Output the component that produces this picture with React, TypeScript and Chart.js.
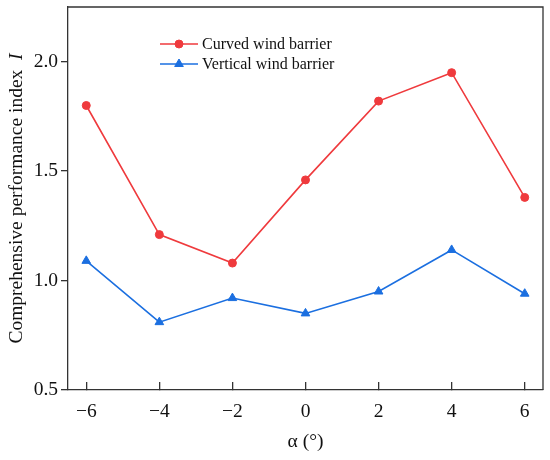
import React, { useEffect, useRef } from "react";
import { Chart, registerables } from "chart.js";

Chart.register(...registerables);

const alphaValues = [-6, -4, -2, 0, 2, 4, 6];
const curvedValues = [1.8, 1.21, 1.08, 1.46, 1.82, 1.95, 1.38];
const verticalValues = [1.09, 0.81, 0.92, 0.85, 0.95, 1.14, 0.94];
const xTickValues = [-6, -4, -2, 0, 2, 4, 6];
const yTickValues = [0.5, 1.0, 1.5, 2.0];
const seriesNames = ["Curved wind barrier", "Vertical wind barrier"];

const RED = "#ef3a3d";
const BLUE = "#1b6fe0";
const AXIS = "#333333";
const SERIF = "'Liberation Serif', 'Times New Roman', serif";

function drawMarker(ctx: CanvasRenderingContext2D, style: string, x: number, y: number, r: number, color: string) {
  ctx.save();
  ctx.fillStyle = color;
  ctx.strokeStyle = color;
  ctx.lineWidth = 1;
  ctx.beginPath();
  if (style === "circle") {
    ctx.arc(x, y, r, 0, Math.PI * 2);
  } else {
    let rad = 0;
    ctx.moveTo(x + Math.sin(rad) * r, y - Math.cos(rad) * r);
    rad += (2 * Math.PI) / 3;
    ctx.lineTo(x + Math.sin(rad) * r, y - Math.cos(rad) * r);
    rad += (2 * Math.PI) / 3;
    ctx.lineTo(x + Math.sin(rad) * r, y - Math.cos(rad) * r);
    ctx.closePath();
  }
  ctx.fill();
  ctx.stroke();
  ctx.restore();
}

const overlay = {
  id: "overlay",
  afterDraw(chart: any) {
    const { ctx, chartArea: a } = chart;
    ctx.save();
    // top and right frame
    ctx.strokeStyle = AXIS;
    ctx.lineWidth = 1.3;
    ctx.beginPath();
    ctx.moveTo(a.left, a.top);
    ctx.lineTo(a.right, a.top);
    ctx.lineTo(a.right, a.bottom);
    ctx.stroke();

    // y axis title with italic I
    const cy = (a.top + a.bottom) / 2;
    ctx.save();
    ctx.translate(17, cy);
    ctx.rotate(-Math.PI / 2);
    ctx.fillStyle = "#111";
    ctx.textBaseline = "middle";
    const part1 = "Comprehensive performance index  ";
    const part2 = "I";
    ctx.font = `19.5px ${SERIF}`;
    const w1 = ctx.measureText(part1).width;
    ctx.font = `italic 19.5px ${SERIF}`;
    const w2 = ctx.measureText(part2).width;
    const start = -(w1 + w2) / 2;
    ctx.font = `19.5px ${SERIF}`;
    ctx.textAlign = "left";
    ctx.fillText(part1, start, 0);
    ctx.font = `italic 19.5px ${SERIF}`;
    ctx.fillText(part2, start + w1, 0);
    ctx.restore();

    // x axis title
    ctx.fillStyle = "#111";
    ctx.font = `19.5px ${SERIF}`;
    ctx.textAlign = "center";
    ctx.textBaseline = "middle";
    ctx.fillText("α (°)", (a.left + a.right) / 2, 442);

    // legend
    const rows = [44, 64];
    chart.data.datasets.forEach((ds: any, i: number) => {
      const y = rows[i];
      ctx.strokeStyle = ds.borderColor;
      ctx.lineWidth = 1.6;
      ctx.beginPath();
      ctx.moveTo(160, y);
      ctx.lineTo(198, y);
      ctx.stroke();
      drawMarker(ctx, ds.pointStyle, 179, y, ds.pointStyle === "circle" ? 4 : 5, ds.borderColor);
      ctx.fillStyle = "#111";
      ctx.font = `16px ${SERIF}`;
      ctx.textAlign = "left";
      ctx.textBaseline = "middle";
      ctx.fillText(ds.label, 202, y + 1);
    });
    ctx.restore();
  },
};

export default function App() {
  const ref = useRef<HTMLCanvasElement | null>(null);
  useEffect(() => {
    if (!ref.current) return;
    const chart = new Chart(ref.current, {
      type: "line",
      data: {
        datasets: [
          {
            label: seriesNames[0],
            data: alphaValues.map((x, i) => ({ x, y: curvedValues[i] })),
            borderColor: RED,
            backgroundColor: RED,
            borderWidth: 1.6,
            pointStyle: "circle",
            pointRadius: 4,
            pointBorderWidth: 1,
          },
          {
            label: seriesNames[1],
            data: alphaValues.map((x, i) => ({ x, y: verticalValues[i] })),
            borderColor: BLUE,
            backgroundColor: BLUE,
            borderWidth: 1.6,
            pointStyle: "triangle",
            pointRadius: 5,
            pointBorderWidth: 1,
          },
        ],
      },
      options: {
        animation: false,
        responsive: false,
        maintainAspectRatio: false,
        layout: { padding: { left: 0, right: 7, top: 7, bottom: 0 } },
        plugins: { legend: { display: false }, tooltip: { enabled: false } },
        scales: {
          x: {
            type: "linear",
            min: -6.5,
            max: 6.5,
            afterBuildTicks: (s: any) => {
              s.ticks = xTickValues.map((v) => ({ value: v }));
            },
            afterFit: (s: any) => {
              s.height = 70;
              s.paddingLeft = 0;
              s.paddingRight = 0;
            },
            grid: { drawOnChartArea: false, drawTicks: true, tickLength: -8, color: AXIS, lineWidth: 1.3 },
            border: { display: true, color: AXIS, width: 1.3 },
            ticks: {
              padding: 18,
              color: "#111",
              font: { family: SERIF, size: 19.5 },
              callback: (v: any) => (v < 0 ? "\u2212" + Math.abs(v) : String(v)),
            },
          },
          y: {
            type: "linear",
            min: 0.5,
            max: 2.25,
            afterBuildTicks: (s: any) => {
              s.ticks = yTickValues.map((v) => ({ value: v }));
            },
            afterFit: (s: any) => {
              s.width = 68;
              s.paddingTop = 0;
              s.paddingBottom = 0;
            },
            grid: { drawOnChartArea: false, drawTicks: true, tickLength: 7, color: AXIS, lineWidth: 1.3 },
            border: { display: true, color: AXIS, width: 1.3 },
            ticks: {
              padding: 3,
              color: "#111",
              font: { family: SERIF, size: 19.5 },
              callback: (v: any) => Number(v).toFixed(1),
            },
          },
        },
      },
      plugins: [overlay],
    });
    return () => chart.destroy();
  }, []);
  return (
    <div style={{ position: "fixed", left: 0, top: 0, width: 550, height: 460, background: "#fff" }}>
      <canvas ref={ref} width={550} height={460} style={{ width: 550, height: 460 }} />
    </div>
  );
}
